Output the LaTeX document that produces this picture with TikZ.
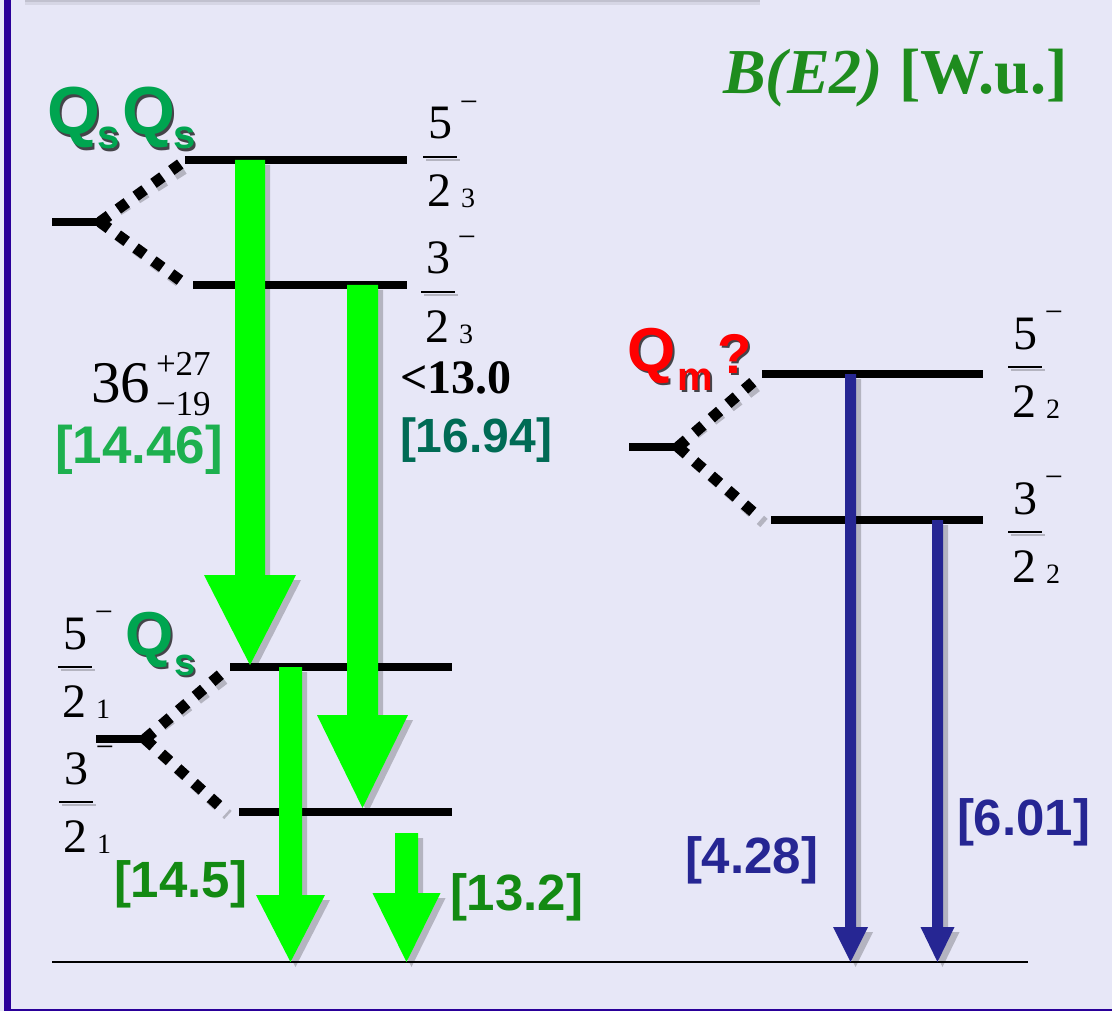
\documentclass[tikz,border=0pt]{standalone}
\usepackage{fontspec}
\setmainfont{Liberation Serif}
\setsansfont{Liberation Sans}
\usetikzlibrary{calc}
\definecolor{bg}{HTML}{E7E7F7}
\definecolor{framec}{HTML}{2A0099}
\definecolor{garrow}{HTML}{00FF00}
\definecolor{barrow}{HTML}{262693}
\definecolor{qgreen}{HTML}{00A550}
\definecolor{lblgreen}{HTML}{1DB04F}
\definecolor{tealgreen}{HTML}{006B55}
\definecolor{dkgreen}{HTML}{138A13}
\definecolor{titlegreen}{HTML}{1E8C1E}
\newcommand\fs[1]{\fontsize{#1}{#1}\selectfont}
\newcommand\spinlab[5]{%
  \draw[shad,line width=1.8pt] (#2-17+3,#3+3) -- (#2+17+3,#3+3);
  \draw[line width=1.8pt] (#2-17,#3) -- (#2+17,#3);
  \node[tnode,font=\fs{48},anchor=base] (#1n) at (#2,#3-18) {#4};
  \node[tnode,font=\fs{32},anchor=center] (#1m) at (#2+29,#3-50) {−};
  \node[tnode,font=\fs{48},anchor=base] (#1d) at (#2-1,#3+50) {2};
  \node[tnode,font=\fs{28},anchor=base west] (#1s) at (#2+21,#3+51) {#5};
}
\newcommand\blockarrow[8]{% name,color,xc,ytop,headtop,tip,halfshaft,halfhead
  \fill[shad] ($(#3-#7,#4)+(5,5)$) -- ($(#3+#7,#4)+(5,5)$) -- ($(#3+#7,#5)+(5,5)$) -- ($(#3+#8,#5)+(5,5)$) -- ($(#3,#6)+(5,5)$) -- ($(#3-#8,#5)+(5,5)$) -- ($(#3-#7,#5)+(5,5)$) -- cycle;
  \coordinate (#1top) at (#3,#4);
  \coordinate (#1tip) at (#3,#6);
  \fill[#2] (#3-#7,#4) -- (#3+#7,#4) -- (#3+#7,#5) -- (#3+#8,#5) -- (#1tip) -- (#3-#8,#5) -- (#3-#7,#5) -- cycle;
}
\newcommand\shnode[5]{%
  \node[tnode,anchor=base west,font=#3,text=black,opacity=0.7] (#1sh) at ($(#2)+(2.5,2.5)$) {#5};
  \node[tnode,anchor=base west,font=#3,text=#4] (#1) at (#2) {#5};
}
\begin{document}
\begin{tikzpicture}[x=1pt,y=-1pt,
  tnode/.style={inner sep=0pt,outer sep=0pt},
  shad/.style={black,opacity=0.22},
  level/.style={line width=7.5pt,black},
  dotl/.style={line width=11pt,dash pattern=on 11pt off 11pt},
  lbl/.style={tnode,anchor=base west,font=\sffamily\bfseries\fs{51}}]
\useasboundingbox (0,0) rectangle (1112,1011);
\fill[bg] (0,0) rectangle (1112,1011);
% top box shadow
\fill[black,opacity=0.16] (25,0) rectangle (760,2.5);
\fill[black,opacity=0.07] (25,2.5) rectangle (760,5);
% frame
\fill[framec] (4,0) rectangle (11,1011);
\fill[framec] (4,1008.5) rectangle (1112,1011);

% ---- coordinates of levels
\coordinate (u3a) at (52,222);   \coordinate (u3j) at (100,222);
\coordinate (l53a) at (185,160); \coordinate (l53b) at (407,160);
\coordinate (l33a) at (193,285); \coordinate (l33b) at (407,285);
\coordinate (u1a) at (96,739);   \coordinate (u1j) at (145,739);
\coordinate (l51a) at (230,667); \coordinate (l51b) at (452,667);
\coordinate (l31a) at (239,812); \coordinate (l31b) at (452,812);
\coordinate (u2a) at (629,447);  \coordinate (u2j) at (678,447);
\coordinate (l52a) at (762,374); \coordinate (l52b) at (983,374);
\coordinate (l32a) at (771,520); \coordinate (l32b) at (983,520);
\coordinate (g0a) at (52,962);   \coordinate (g0b) at (1028,962);

% shadows of levels
\begin{scope}[shift={(4,5)}]
\foreach \a/\b in {u3a/u3j,l53a/l53b,l33a/l33b,u1a/u1j,l51a/l51b,l31a/l31b,u2a/u2j,l52a/l52b,l32a/l32b}
  \draw[level,shad] (\a) -- (\b);
\draw[shad,line width=2.5pt] (g0a) -- (g0b);
\draw[dotl,shad] (u3j) -- (183,162);
\draw[dotl,shad] (u3j) -- (181,281);
\draw[dotl,shad] (u1j) -- (227,669);
\draw[dotl,shad] (u1j) -- (224,810);
\draw[dotl,shad] (u2j) -- (760,376);
\draw[dotl,shad] (u2j) -- (760,518);
\end{scope}
% levels
\foreach \a/\b in {u3a/u3j,l53a/l53b,l33a/l33b,u1a/u1j,l51a/l51b,l31a/l31b,u2a/u2j,l52a/l52b,l32a/l32b}
  \draw[level] (\a) -- (\b);
\draw[black,line width=2.5pt] (g0a) -- (g0b);
\draw[dotl] (u3j) -- (183,162);
\draw[dotl] (u3j) -- (181,281);
\draw[dotl] (u1j) -- (227,669);
\draw[dotl] (u1j) -- (224,810);
\draw[dotl] (u2j) -- (760,376);
\draw[dotl] (u2j) -- (760,518);

% ---- arrows
\blockarrow{ga}{garrow}{250}{160}{575}{665}{15}{46}
\blockarrow{gb}{garrow}{362.5}{285}{715}{808}{15.5}{45.5}
\blockarrow{gc}{garrow}{290.5}{667}{895}{962}{11.5}{34.5}
\blockarrow{gd}{garrow}{406.5}{833}{893}{962}{11.5}{34}
\blockarrow{ba}{barrow}{850.5}{374}{927}{962}{5.5}{17.5}
\blockarrow{bb}{barrow}{937.5}{520}{927}{962}{5.5}{17}

% ---- spin labels
\spinlab{s53}{440}{157}{5}{3}
\spinlab{s33}{438}{292}{3}{3}
\spinlab{s51}{75}{667}{5}{1}
\spinlab{s31}{76}{802}{3}{1}
\spinlab{s52}{1025}{367}{5}{2}
\spinlab{s32}{1025}{532}{3}{2}

% ---- Q labels
\shnode{qa}{47,135}{\sffamily\bfseries\fs{68}}{qgreen}{Q}
\shnode{qas}{97,149}{\sffamily\bfseries\fs{40}}{qgreen}{s}
\shnode{qb}{122,135}{\sffamily\bfseries\fs{68}}{qgreen}{Q}
\shnode{qbs}{173,149}{\sffamily\bfseries\fs{40}}{qgreen}{s}
\shnode{qc}{125,655}{\sffamily\bfseries\fs{62}}{qgreen}{Q}
\shnode{qcs}{174,675}{\sffamily\bfseries\fs{38}}{qgreen}{s}
\shnode{qm}{627,371}{\sffamily\bfseries\fs{62}}{red}{Q}
\shnode{qms}{677,390}{\sffamily\bfseries\fs{40}}{red}{m}
\shnode{qmq}{717,373}{\sffamily\bfseries\fs{56}}{red}{?}

% ---- values
\node[tnode,anchor=base west,font=\fs{59}] (v36) at (91,402) {36};
\node[tnode,anchor=base west,font=\fs{35}] (v36p) at (156,375) {+27};
\node[tnode,anchor=base west,font=\fs{35}] (v36m) at (156,415) {−19};
\node[lbl,font=\sffamily\bfseries\fs{53},text=lblgreen] (c1446) at (55,463) {[14.46]};
\node[tnode,anchor=base west,font=\bfseries\fs{48}] (v13) at (400,393) {<13.0};
\node[lbl,font=\sffamily\bfseries\fs{48},text=tealgreen] (c1694) at (400,452) {[16.94]};
\node[lbl,text=dkgreen] (c145) at (114,897) {[14.5]};
\node[lbl,text=dkgreen] (c132) at (450,910) {[13.2]};
\node[lbl,text=barrow] (c428) at (685,873) {[4.28]};
\node[lbl,text=barrow] (c601) at (957,835) {[6.01]};
\node[tnode,anchor=base west,font=\bfseries\fs{64},text=titlegreen] (title) at (723,94) {\textit{B(E2)} [W.u.]};
\end{tikzpicture}
\end{document}
